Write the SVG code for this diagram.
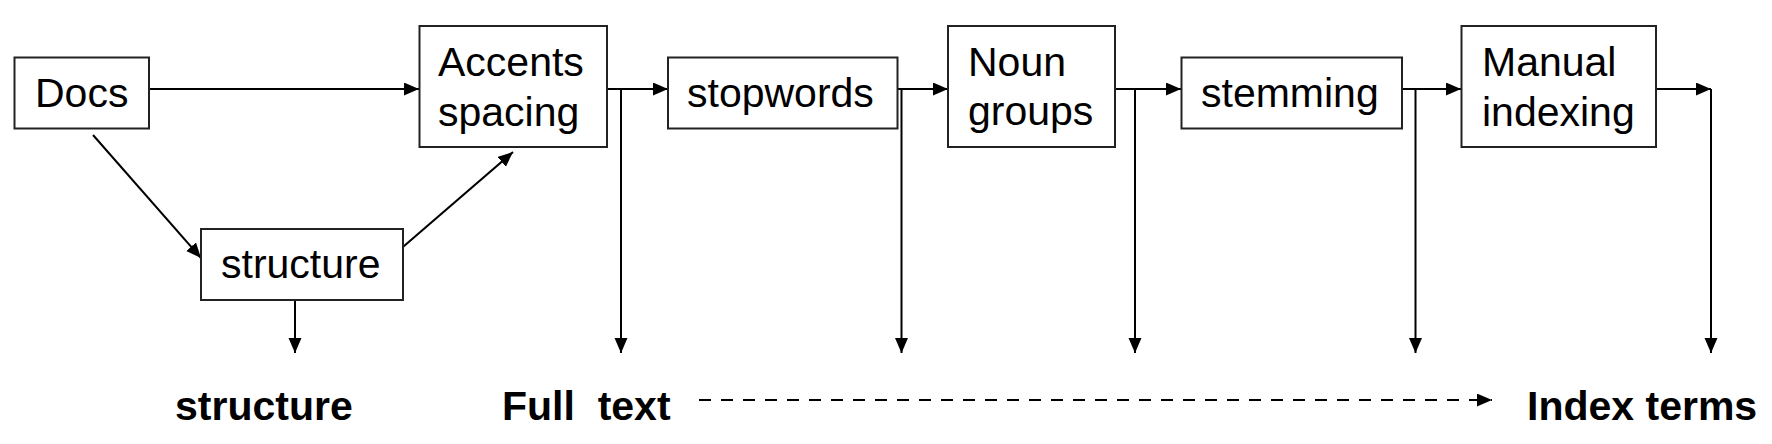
<svg xmlns="http://www.w3.org/2000/svg" width="1772" height="444" viewBox="0 0 1772 444">
<style>
.box{fill:#fff;stroke:#222;stroke-width:2}
.t{font-family:"Liberation Sans",Arial,sans-serif;font-size:41px;fill:#000}
.b{font-family:"Liberation Sans",Arial,sans-serif;font-size:41px;font-weight:bold;fill:#000}
.ln{fill:none;stroke:#000;stroke-width:2}
.dash{fill:none;stroke:#000;stroke-width:2;stroke-dasharray:12 10}
</style>
<defs>
<marker id="ah" markerUnits="userSpaceOnUse" markerWidth="16" markerHeight="14" refX="15" refY="6.5" orient="auto">
<path d="M0,0 L15,6.5 L0,13 z" fill="#000"/>
</marker>
</defs>
<g id="connectors">
<line class="ln" x1="140" y1="89" x2="419" y2="89" marker-end="url(#ah)"/>
<line class="ln" x1="591" y1="89" x2="668" y2="89" marker-end="url(#ah)"/>
<line class="ln" x1="621" y1="89" x2="621" y2="353" marker-end="url(#ah)"/>
<line class="ln" x1="871" y1="89" x2="948" y2="89" marker-end="url(#ah)"/>
<line class="ln" x1="901.5" y1="89" x2="901.5" y2="353" marker-end="url(#ah)"/>
<line class="ln" x1="1104" y1="89" x2="1181" y2="89" marker-end="url(#ah)"/>
<line class="ln" x1="1135" y1="89" x2="1135" y2="353" marker-end="url(#ah)"/>
<line class="ln" x1="1385" y1="89" x2="1461" y2="89" marker-end="url(#ah)"/>
<line class="ln" x1="1415.5" y1="89" x2="1415.5" y2="353" marker-end="url(#ah)"/>
<line class="ln" x1="1649" y1="89" x2="1711" y2="89" marker-end="url(#ah)"/>
<line class="ln" x1="1711" y1="89" x2="1711" y2="353" marker-end="url(#ah)"/>
<line class="ln" x1="295" y1="291" x2="295" y2="353" marker-end="url(#ah)"/>
<line class="ln" x1="93" y1="135" x2="201" y2="258" marker-end="url(#ah)"/>
<line class="ln" x1="389" y1="259" x2="513" y2="152" marker-end="url(#ah)"/>
<line class="dash" x1="699" y1="400" x2="1492" y2="400" marker-end="url(#ah)"/>
</g>
<g id="docs">
<rect class="box" x="14.5" y="57.5" width="134.5" height="71"/>
<text class="t" x="35" y="107">Docs</text>
</g>
<g id="accents">
<rect class="box" x="419.5" y="26" width="187.5" height="121"/>
<text class="t" x="438" y="76">Accents</text>
<text class="t" x="438" y="126">spacing</text>
</g>
<g id="structure">
<rect class="box" x="201" y="229" width="202" height="71"/>
<text class="t" x="221" y="278">structure</text>
</g>
<g id="stopwords">
<rect class="box" x="668" y="57.5" width="229.5" height="71"/>
<text class="t" x="687" y="107">stopwords</text>
</g>
<g id="noun-groups">
<rect class="box" x="948" y="26" width="167" height="121"/>
<text class="t" x="968" y="76">Noun</text>
<text class="t" x="968" y="125">groups</text>
</g>
<g id="stemming">
<rect class="box" x="1181.5" y="57.5" width="220.5" height="71"/>
<text class="t" x="1201" y="107">stemming</text>
</g>
<g id="manual-indexing">
<rect class="box" x="1461.5" y="26" width="194.5" height="121"/>
<text class="t" x="1482" y="76">Manual</text>
<text class="t" x="1482" y="126">indexing</text>
</g>
<g id="outputs">
<text class="b" x="175" y="420">structure</text>
<text class="b" x="502" y="420" xml:space="preserve">Full  text</text>
<text class="b" x="1527" y="420">Index terms</text>
</g>
</svg>
